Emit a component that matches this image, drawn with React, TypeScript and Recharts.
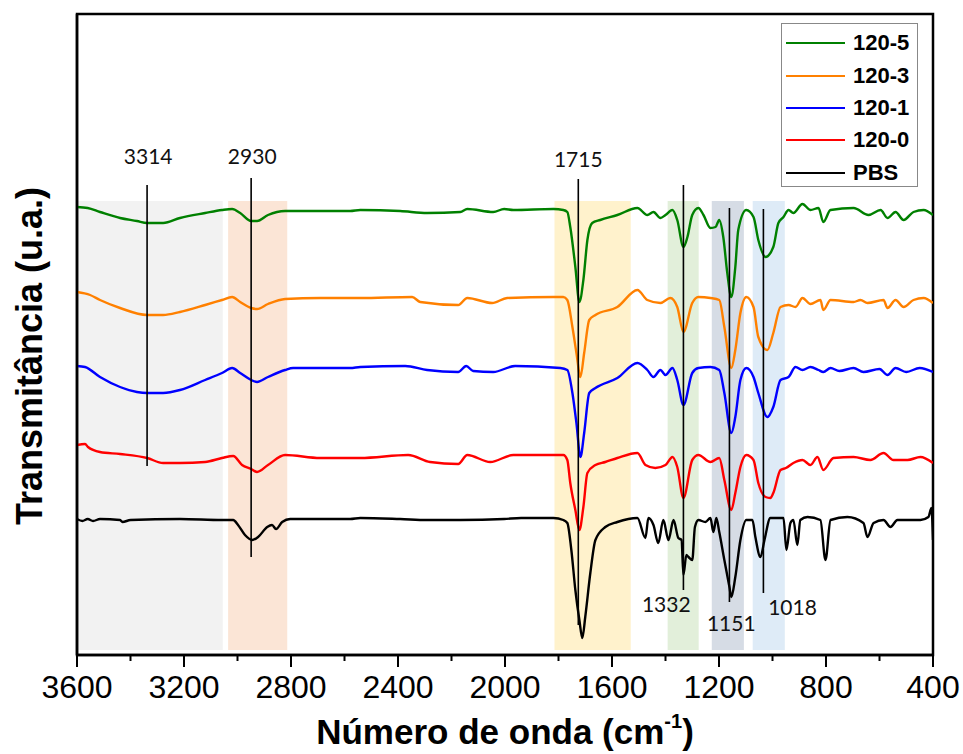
import React from "react";
import {
  LineChart,
  Line,
  XAxis,
  YAxis,
  ReferenceArea,
  ReferenceLine,
  ReferenceDot,
  Legend,
} from "recharts";

// FTIR spectra, [wavenumber (cm-1), transmittance (u.a., offset per trace)]
const s1205: [number, number][] = [
  [3600, 448], [3560, 447], [3514, 443], [3439, 437], [3376, 434], [3338, 432], [3278, 432], [3215, 437],
  [3121, 442], [3058, 445], [3020, 446], [2990, 442], [2949, 434], [2927, 434], [2886, 440], [2822, 444],
  [2691, 444], [2579, 444], [2541, 445], [2392, 444], [2291, 442], [2167, 443], [2141, 446], [2044, 443],
  [2003, 446], [1969, 445], [1819, 446], [1782, 445], [1767, 443], [1756, 428], [1737, 388], [1722, 353],
  [1707, 375], [1692, 415], [1674, 432], [1644, 435], [1580, 440], [1505, 447], [1468, 440], [1445, 443],
  [1419, 437], [1400, 440], [1374, 445], [1356, 435], [1333, 408], [1318, 418], [1300, 440], [1277, 447],
  [1258, 440], [1232, 427], [1213, 428], [1199, 435], [1184, 418], [1169, 382], [1154, 358], [1139, 388],
  [1128, 425], [1098, 445], [1071, 438], [1053, 415], [1026, 398], [997, 408], [978, 432], [959, 438],
  [940, 445], [922, 442], [888, 451], [858, 445], [828, 447], [810, 433], [783, 445], [697, 447],
  [641, 440], [596, 445], [570, 437], [540, 443], [510, 435], [473, 443], [435, 445], [400, 440],
];

const s1203: [number, number][] = [
  [3600, 363], [3551, 360], [3514, 355], [3439, 347], [3338, 340], [3278, 340], [3215, 343], [3121, 350],
  [3058, 355], [3020, 358], [2990, 353], [2949, 347], [2927, 346], [2886, 351], [2822, 356], [2691, 357],
  [2541, 357], [2347, 358], [2317, 353], [2175, 350], [2141, 357], [2048, 352], [1992, 357], [1819, 358],
  [1782, 358], [1767, 355], [1748, 328], [1733, 302], [1718, 278], [1704, 302], [1685, 335], [1662, 340],
  [1580, 348], [1505, 365], [1468, 355], [1419, 352], [1382, 357], [1356, 348], [1333, 323], [1300, 352],
  [1277, 358], [1232, 357], [1199, 355], [1180, 328], [1154, 287], [1139, 305], [1120, 342], [1098, 358],
  [1071, 348], [1053, 318], [1019, 305], [997, 322], [970, 348], [940, 350], [914, 348], [888, 357],
  [858, 351], [821, 355], [810, 345], [783, 355], [697, 353], [671, 355], [645, 352], [585, 355],
  [570, 347], [540, 355], [510, 348], [473, 355], [435, 357], [400, 352],
];

const s1201: [number, number][] = [
  [3600, 289], [3570, 288], [3514, 278], [3439, 268], [3376, 263], [3338, 262], [3278, 262], [3215, 265],
  [3121, 275], [3058, 282], [3020, 287], [2990, 282], [2949, 275], [2927, 273], [2886, 278], [2822, 285],
  [2792, 287], [2579, 287], [2541, 288], [2373, 289], [2291, 285], [2175, 283], [2145, 289], [2119, 284],
  [2044, 283], [1962, 289], [1793, 287], [1767, 285], [1748, 262], [1733, 232], [1718, 198], [1704, 222],
  [1685, 262], [1662, 267], [1580, 277], [1505, 292], [1468, 285], [1445, 278], [1419, 285], [1400, 280],
  [1374, 287], [1356, 275], [1333, 250], [1300, 282], [1277, 287], [1232, 288], [1199, 285], [1180, 262],
  [1154, 222], [1139, 238], [1120, 275], [1098, 287], [1071, 278], [1053, 262], [1019, 238], [997, 248],
  [970, 275], [940, 278], [914, 288], [888, 285], [858, 288], [828, 285], [810, 283], [783, 287],
  [750, 284], [697, 287], [660, 283], [600, 286], [570, 280], [540, 287], [500, 283], [450, 287], [400, 283],
];

const s1200: [number, number][] = [
  [3600, 210], [3570, 211], [3559, 208], [3514, 203], [3439, 201], [3338, 197], [3278, 192], [3215, 192],
  [3121, 193], [3058, 197], [3016, 199], [2983, 190], [2949, 186], [2927, 183], [2886, 190], [2822, 200],
  [2691, 197], [2579, 197], [2541, 197], [2362, 200], [2280, 193], [2175, 191], [2141, 200], [2055, 193],
  [1969, 200], [1819, 200], [1782, 200], [1767, 195], [1756, 172], [1737, 145], [1722, 125], [1707, 148],
  [1692, 182], [1662, 190], [1625, 193], [1580, 197], [1505, 202], [1475, 190], [1438, 187], [1400, 190],
  [1374, 198], [1356, 188], [1333, 157], [1300, 195], [1277, 200], [1232, 193], [1199, 197], [1180, 175],
  [1154, 145], [1139, 162], [1120, 188], [1098, 200], [1071, 195], [1053, 172], [1026, 158], [1008, 157],
  [997, 162], [970, 185], [950, 187], [922, 192], [888, 195], [858, 190], [832, 198], [810, 185],
  [772, 197], [697, 198], [634, 195], [585, 202], [548, 195], [495, 195], [447, 198], [400, 192],
];

const sPbs: [number, number][] = [
  [3600, 136], [3580, 134], [3560, 136], [3540, 134], [3514, 136], [3439, 135], [3430, 133], [3400, 135],
  [3215, 136], [3058, 135], [3016, 135], [2998, 130], [2972, 120], [2945, 115], [2923, 118], [2889, 128],
  [2871, 130], [2856, 126], [2833, 133], [2803, 136], [2579, 136], [2541, 137], [2392, 136], [2291, 135],
  [2167, 135], [2003, 136], [1940, 137], [1819, 137], [1782, 135], [1767, 132], [1752, 105], [1737, 65],
  [1722, 35], [1711, 17], [1700, 38], [1681, 82], [1662, 115], [1625, 128], [1580, 133], [1505, 137],
  [1475, 117], [1464, 137], [1445, 130], [1427, 112], [1408, 135], [1389, 115], [1370, 135], [1352, 117],
  [1340, 115], [1333, 80], [1322, 100], [1314, 98], [1300, 95], [1290, 128], [1277, 135], [1251, 133],
  [1232, 137], [1221, 123], [1210, 137], [1199, 123], [1180, 95], [1161, 68], [1154, 58], [1139, 78],
  [1120, 115], [1098, 135], [1075, 135], [1064, 118], [1045, 98], [1030, 115], [1008, 137], [959, 137],
  [948, 105], [933, 132], [922, 135], [907, 110], [896, 135], [869, 138], [821, 135], [802, 95],
  [783, 135], [720, 138], [660, 132], [645, 118], [622, 132], [585, 135], [559, 128], [533, 135],
  [447, 135], [417, 138], [406, 147], [400, 115],
];

const seriesNames = ["120-5", "120-3", "120-1", "120-0", "PBS"];
const seriesColors = ["#008000", "#ff8000", "#0000ff", "#ff0000", "#000000"];
const seriesData = [s1205, s1203, s1201, s1200, sPbs];

// shaded absorption regions
const bandFrom = [3600, 3035, 1815, 1392, 1227, 1074];
const bandTo = [3055, 2814, 1530, 1276, 1107, 954];
const bandColors = ["#f2f2f2", "#fbe5d6", "#fff2cc", "#e2efda", "#d6dce5", "#deebf7"];

// peak markers
const peakLabels = ["3314", "2930", "1715", "1332", "1151", "1018"];
const peakX = [3338, 2949, 1726, 1333, 1161, 1034];
const peakTop = [470, 477, 476, 470, 447, 446];
const peakBottom = [189, 98, 30, 65, 53, 62];
const labelX = [3334, 2945, 1726, 1397, 1154, 925];
const labelY = [498, 498, 495, 50, 31, 47];

const xTicks = [3600, 3400, 3200, 3000, 2800, 2600, 2400, 2200, 2000, 1800, 1600, 1400, 1200, 1000, 800, 600, 400];

const AXIS_FONT = "'Liberation Sans', Arial, sans-serif";

const WaveTick = (props: any) => {
  const { x, y, payload } = props;
  const major = payload.value % 400 === 0;
  return (
    <g>
      <line x1={x} x2={x} y1={y} y2={y + (major ? 12 : 6)} stroke="#000" strokeWidth={2} />
      {major && (
        <text x={x} y={y + 43} textAnchor="middle" fontFamily={AXIS_FONT} fontSize={32} fill="#000">
          {payload.value}
        </text>
      )}
    </g>
  );
};

const XTitle = () => (
  <text x={505} y={744} textAnchor="middle" fontFamily={AXIS_FONT} fontWeight="bold" fontSize={35} fill="#000">
    Número de onda (cm
    <tspan fontSize={20} dy={-16}>-1</tspan>
    <tspan dy={16}>)</tspan>
  </text>
);

const YTitle = () => (
  <text
    x={29}
    y={356}
    transform="rotate(-90, 29, 356)"
    textAnchor="middle"
    dominantBaseline="central"
    fontFamily={AXIS_FONT}
    fontWeight="bold"
    fontSize={36}
    fill="#000"
  >
    Transmitância (u.a.)
  </text>
);

const LegendBox = () => (
  <div
    style={{
      width: 137,
      height: 164,
      boxSizing: "border-box",
      border: "1px solid #888",
      background: "#fff",
      paddingTop: 3,
    }}
  >
    {seriesNames.map((name, i) => (
      <div key={name} style={{ height: 32.4, display: "flex", alignItems: "center" }}>
        <div style={{ width: 59, height: 2, background: seriesColors[i], marginLeft: 4 }} />
        <span
          style={{
            marginLeft: 8,
            fontFamily: AXIS_FONT,
            fontWeight: "bold",
            fontSize: 22,
            color: "#000",
          }}
        >
          {name}
        </span>
      </div>
    ))}
  </div>
);

export default function App() {
  return (
    <div style={{ position: "absolute", left: 0, top: 0 }}>
      <LineChart width={963} height={754} margin={{ top: 14, right: 30, bottom: 0, left: 0 }}>
        <XAxis
          type="number"
          dataKey="w"
          domain={[400, 3600]}
          reversed
          ticks={xTicks}
          interval={0}
          tick={<WaveTick />}
          tickLine={false}
          tickSize={0}
          tickMargin={0}
          height={99}
          axisLine={{ stroke: "#000", strokeWidth: 2.5 }}
          label={<XTitle />}
          allowDataOverflow
        />
        <YAxis
          type="number"
          domain={[0, 641]}
          tick={false}
          tickLine={false}
          width={77}
          axisLine={{ stroke: "#000", strokeWidth: 2.5 }}
          label={<YTitle />}
          allowDataOverflow
        />
        {bandFrom.map((b, i) => (
          <ReferenceArea
            key={"band" + i}
            x1={b}
            x2={bandTo[i]}
            y1={5}
            y2={454}
            fill={bandColors[i]}
            fillOpacity={1}
            stroke="none"
          />
        ))}
        <ReferenceArea x1={3600} x2={400} y1={0} y2={641} fill="none" stroke="#000" strokeWidth={2.5} />
        {seriesData.map((d, i) => (
          <Line
            key={seriesNames[i]}
            name={seriesNames[i]}
            data={d.map(([w, t]) => ({ w, t }))}
            dataKey="t"
            type="monotone"
            stroke={seriesColors[i]}
            strokeWidth={2.4}
            dot={false}
            isAnimationActive={false}
          />
        ))}
        {peakX.map((p, i) => (
          <ReferenceLine
            key={"pk" + i}
            segment={[
              { x: p, y: peakTop[i] },
              { x: p, y: peakBottom[i] },
            ]}
            stroke="#000"
            strokeWidth={1.6}
          />
        ))}
        {peakLabels.map((lab, i) => (
          <ReferenceDot
            key={"pl" + i}
            x={labelX[i]}
            y={labelY[i]}
            r={1}
            fill="none"
            stroke="none"
            label={{ value: lab, position: "center", fontFamily: "Lato, 'Open Sans', sans-serif", fontSize: 21, fill: "#111" }}
          />
        ))}
        <Legend
          layout="vertical"
          align="center"
          verticalAlign="middle"
          content={<LegendBox />}
          wrapperStyle={{ left: 781, top: 23, width: 137, height: 164 }}
        />
      </LineChart>
    </div>
  );
}
